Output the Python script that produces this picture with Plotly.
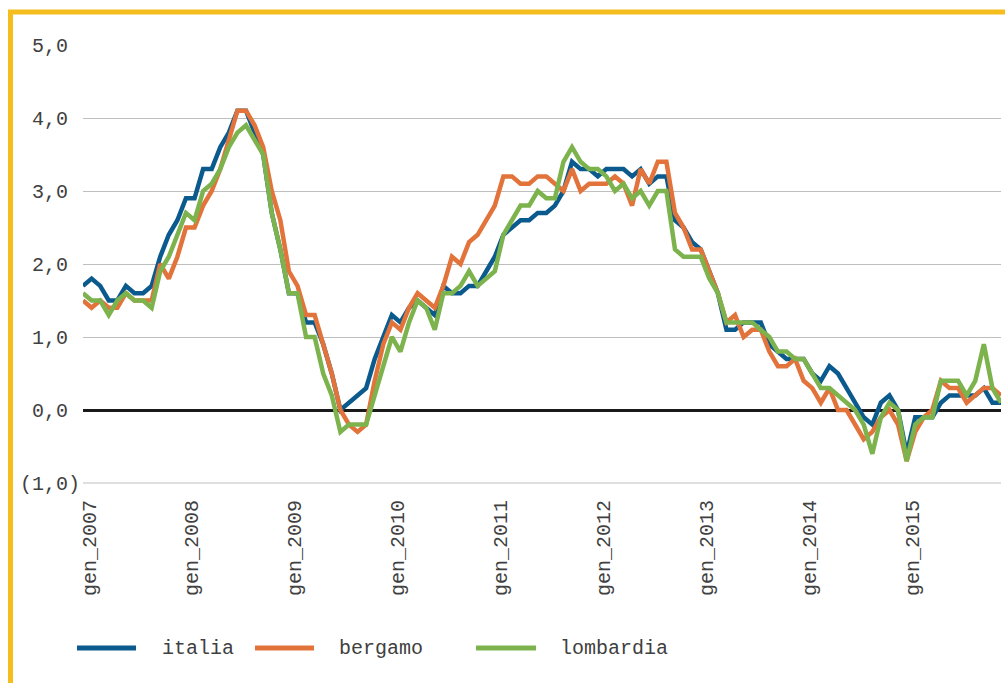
import plotly.graph_objects as go

# ---- data -------------------------------------------------------------
months_it = ["gen", "feb", "mar", "apr", "mag", "giu", "lug", "ago", "set", "ott", "nov", "dic"]
years = list(range(2007, 2016))
categories = [f"{m}_{y}" for y in years for m in months_it]

italia = [
    1.7, 1.8, 1.7, 1.5, 1.5, 1.7, 1.6, 1.6, 1.7, 2.1, 2.4, 2.6,
    2.9, 2.9, 3.3, 3.3, 3.6, 3.8, 4.1, 4.1, 3.8, 3.5, 2.7, 2.2,
    1.6, 1.6, 1.2, 1.2, 0.9, 0.5, 0.0, 0.1, 0.2, 0.3, 0.7, 1.0,
    1.3, 1.2, 1.4, 1.5, 1.4, 1.3, 1.7, 1.6, 1.6, 1.7, 1.7, 1.9,
    2.1, 2.4, 2.5, 2.6, 2.6, 2.7, 2.7, 2.8, 3.0, 3.4, 3.3, 3.3,
    3.2, 3.3, 3.3, 3.3, 3.2, 3.3, 3.1, 3.2, 3.2, 2.6, 2.5, 2.3,
    2.2, 1.9, 1.6, 1.1, 1.1, 1.2, 1.2, 1.2, 0.9, 0.8, 0.7, 0.7,
    0.7, 0.5, 0.4, 0.6, 0.5, 0.3, 0.1, -0.1, -0.2, 0.1, 0.2, 0.0,
    -0.6, -0.1, -0.1, -0.1, 0.1, 0.2, 0.2, 0.2, 0.2, 0.3, 0.1, 0.1,
]
bergamo = [
    1.5, 1.4, 1.5, 1.4, 1.4, 1.6, 1.5, 1.5, 1.5, 2.0, 1.8, 2.1,
    2.5, 2.5, 2.8, 3.0, 3.3, 3.7, 4.1, 4.1, 3.9, 3.6, 3.0, 2.6,
    1.9, 1.7, 1.3, 1.3, 0.9, 0.5, 0.0, -0.2, -0.3, -0.2, 0.4, 0.9,
    1.2, 1.1, 1.4, 1.6, 1.5, 1.4, 1.7, 2.1, 2.0, 2.3, 2.4, 2.6,
    2.8, 3.2, 3.2, 3.1, 3.1, 3.2, 3.2, 3.1, 3.0, 3.3, 3.0, 3.1,
    3.1, 3.1, 3.2, 3.1, 2.8, 3.3, 3.1, 3.4, 3.4, 2.7, 2.5, 2.2,
    2.2, 1.9, 1.6, 1.2, 1.3, 1.0, 1.1, 1.1, 0.8, 0.6, 0.6, 0.7,
    0.4, 0.3, 0.1, 0.3, 0.0, 0.0, -0.2, -0.4, -0.3, -0.1, 0.0, -0.2,
    -0.7, -0.3, -0.1, 0.0, 0.4, 0.3, 0.3, 0.1, 0.2, 0.3, 0.3, 0.2,
]
lombardia = [
    1.6, 1.5, 1.5, 1.3, 1.5, 1.6, 1.5, 1.5, 1.4, 1.9, 2.1, 2.4,
    2.7, 2.6, 3.0, 3.1, 3.3, 3.6, 3.8, 3.9, 3.7, 3.5, 2.7, 2.2,
    1.6, 1.6, 1.0, 1.0, 0.5, 0.2, -0.3, -0.2, -0.2, -0.2, 0.2, 0.6,
    1.0, 0.8, 1.2, 1.5, 1.4, 1.1, 1.6, 1.6, 1.7, 1.9, 1.7, 1.8,
    1.9, 2.4, 2.6, 2.8, 2.8, 3.0, 2.9, 2.9, 3.4, 3.6, 3.4, 3.3,
    3.3, 3.2, 3.0, 3.1, 2.9, 3.0, 2.8, 3.0, 3.0, 2.2, 2.1, 2.1,
    2.1, 1.8, 1.6, 1.2, 1.2, 1.2, 1.2, 1.1, 1.0, 0.8, 0.8, 0.7,
    0.7, 0.5, 0.3, 0.3, 0.2, 0.1, 0.0, -0.2, -0.6, -0.1, 0.1, 0.0,
    -0.7, -0.2, -0.1, -0.1, 0.4, 0.4, 0.4, 0.2, 0.4, 0.9, 0.3, 0.1,
]
series_names = ["italia", "bergamo", "lombardia"]
series_values = [italia, bergamo, lombardia]
series_colors = ["#0B5A8E", "#E2733A", "#7DB34C"]

y_tickvals = [-1, 0, 1, 2, 3, 4, 5]
y_ticktext = ["(1,0)", "0,0\u00a0", "1,0\u00a0", "2,0\u00a0", "3,0\u00a0", "4,0\u00a0", "5,0\u00a0"]
x_tickvals = categories[::12]

# ---- layout geometry ----------------------------------------------------
W, H = 1005, 683
L, R, T, B = 83, 4, 45, 200
PW, PH = W - L - R, H - T - B

def px(xp):
    return (xp - L) / PW

def py(yp):
    return (H - B - yp) / PH

FONT = "Liberation Mono, Courier New, monospace"
TXT = "#404040"

fig = go.Figure()
for name, vals, col in zip(series_names, series_values, series_colors):
    fig.add_trace(go.Scatter(
        x=categories, y=vals, mode="lines", name=name,
        line=dict(color=col, width=4.5), showlegend=False,
    ))

shapes = [
    # gridline along the bottom of the value axis (-1,0)
    dict(type="line", xref="paper", yref="paper", x0=0, x1=1, y0=0, y1=0,
         line=dict(color="#BFBFBF", width=1.2), layer="above"),
    # yellow frame
    dict(type="rect", xref="paper", yref="paper",
         x0=px(10.5), y0=py(700), x1=px(1015), y1=py(12),
         line=dict(color="#F5BE1E", width=5), fillcolor="rgba(0,0,0,0)", layer="above"),
]
annotations = []
legend_line_x = [(77, 136), (255, 314), (476, 536)]
legend_text_x = [160, 337, 558]
leg_y = 648
for (a, b), tx, name, col in zip(legend_line_x, legend_text_x, series_names, series_colors):
    shapes.append(dict(type="line", xref="paper", yref="paper",
                       x0=px(a), x1=px(b), y0=py(leg_y), y1=py(leg_y),
                       line=dict(color=col, width=5)))
    annotations.append(dict(xref="paper", yref="paper", x=px(tx), y=py(leg_y),
                            text=name, showarrow=False, xanchor="left", yanchor="middle",
                            font=dict(family=FONT, size=20, color=TXT)))

fig.update_layout(
    width=W, height=H,
    margin=dict(l=L, r=R, t=T, b=B, pad=0),
    paper_bgcolor="white", plot_bgcolor="white",
    font=dict(family=FONT, size=20, color=TXT),
    shapes=shapes, annotations=annotations,
    xaxis=dict(
        type="category", range=[0, len(categories) - 1],
        tickmode="array", tickvals=x_tickvals, ticktext=x_tickvals,
        tickangle=-90, showgrid=False, showline=False, zeroline=False,
        ticks="", ticklabelstandoff=12, ticklabelshift=6,
        tickfont=dict(family=FONT, size=20, color=TXT),
    ),
    yaxis=dict(
        range=[-1, 5], tickmode="array", tickvals=y_tickvals, ticktext=y_ticktext,
        showgrid=True, gridcolor="#BFBFBF", gridwidth=1,
        zeroline=True, zerolinecolor="#1A1A1A", zerolinewidth=2.5,
        showline=False, ticks="", ticklabelstandoff=2,
        tickfont=dict(family=FONT, size=20, color=TXT),
    ),
)

fig.write_html(
    "out.html",
    config={"displayModeBar": False},
    post_script="document.body.style.margin='0';document.body.style.overflow='hidden';",
)
